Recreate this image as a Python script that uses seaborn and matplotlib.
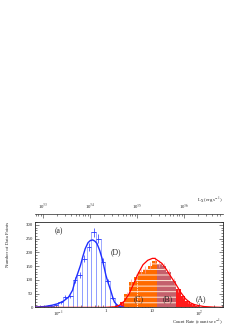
import numpy as np
import pandas as pd
import matplotlib
matplotlib.use("Agg")
import matplotlib.pyplot as plt
import matplotlib.ticker as mticker
import seaborn as sns

# log10(count rate) bin edges, 0.1 dex wide
edges = np.round(np.arange(-1.5, 2.51, 0.1), 1)
centers = np.round(edges[:-1] + 0.05, 2)

# source (D) histogram
blue_counts = [1, 2, 4, 6, 10, 18, 38, 40, 99, 117,
               177, 220, 272, 250, 165, 95, 35, 10, 3, 0,
               0, 0, 0, 0, 0, 0, 0, 0, 0, 0,
               0, 0, 0, 0, 0, 0, 0, 0, 0, 0]
# background histogram, split into regions (C), (B), (A)
red_counts = [0, 0, 0, 0, 0, 0, 0, 0, 0, 0,
              0, 0, 0, 0, 0, 1, 3, 8, 18, 48,
              92, 110, 128, 138, 152, 170, 158, 150, 128, 96,
              65, 40, 22, 12, 6, 3, 2, 1, 1, 0]

# fitted curves (log10 count rate, counts)
blue_fit_x = [-1.5, -1.3, -1.13, -1.0, -0.89, -0.78, -0.7, -0.64, -0.58, -0.53, -0.48,
              -0.43, -0.37, -0.32, -0.27, -0.22, -0.18, -0.12, -0.07, -0.02, 0.01,
              0.06, 0.11, 0.15, 0.19, 0.25, 0.32, 0.4]
blue_fit_y = [1, 3, 8, 14, 23, 38, 62, 99, 128, 153, 185,
              213, 235, 243, 245, 240, 232, 206, 177, 140, 117,
              88, 63, 40, 20, 8, 2, 0]
red_fit_x = [-1.5, 0.0, 0.1, 0.2, 0.3, 0.4, 0.5, 0.6, 0.7, 0.8, 0.9, 1.0, 1.05,
             1.1, 1.2, 1.3, 1.4, 1.5, 1.6, 1.7, 1.8, 1.9, 2.0, 2.1, 2.3, 2.5]
red_fit_y = [0, 0, 1, 2, 8, 22, 48, 85, 124, 155, 171, 178, 178,
             172, 160, 137, 110, 84, 55, 32, 17, 10, 6, 3, 1, 0]

# region limits in log10 count rate
c_lo, c_hi, b_hi = 0.4, 1.1, 1.5
dash_x, dash_top = 4.7, 110
lx_factor = 2.14e34
lx_ticks = [1e33, 1e34, 1e35, 1e36]
lx_labels = ["10$^{33}$", "10$^{34}$", "10$^{35}$", "10$^{36}$"]

df = pd.DataFrame({"logc": centers, "rate": 10 ** centers,
                   "blue": blue_counts, "red": red_counts})

sns.set_style("ticks")
plt.rcParams["font.family"] = ["Liberation Serif", "DejaVu Serif"]
plt.rcParams["mathtext.fontset"] = "stix"
plt.rcParams["hatch.linewidth"] = 0.7

fig = plt.figure(figsize=(2.53, 3.27), dpi=100)
ax = fig.add_axes([0.138, 0.060, 0.743, 0.261])

regions = [
    (-1.5, c_lo, "#ff1a1a", None),
    (c_lo, c_hi, "#ff6a00", "---"),
    (c_hi, b_hi, "#c4606c", "---"),
    (b_hi, 2.5, "#ff1a1a", None),
]
for lo, hi, col, hatch in regions:
    sub = df[(df.logc > lo) & (df.logc < hi)]
    nb = int(round((hi - lo) / 0.1))
    kw = dict(hatch=hatch) if hatch else {}
    sns.histplot(data=sub, x="rate", weights="red", bins=nb, binrange=(lo, hi),
                 log_scale=True, element="bars", fill=True, color=col, alpha=1,
                 linewidth=0, edgecolor="#ffe6d6", ax=ax, zorder=1, **kw)

ax.vlines(dash_x, 0, dash_top, colors="white", linestyles=(0, (2, 1.5)), lw=0.5, zorder=2)

# light error bars for the background points
rr = df[df.red > 0]
ax.errorbar(rr["rate"], rr["red"], yerr=np.sqrt(rr["red"]), fmt="none",
            ecolor="#ff9a9a", elinewidth=0.5, capsize=0, zorder=2)

# source (D): light bar outlines and data points with error bars
sns.histplot(data=df, x="rate", weights="blue", bins=len(centers), binrange=(-1.5, 2.5),
             log_scale=True, element="bars", fill=False, color="#8f9cff",
             linewidth=0.6, ax=ax, zorder=3)
bb = df[df.blue > 0]
xlo = bb["rate"] - 10 ** (bb["logc"] - 0.05)
xhi = 10 ** (bb["logc"] + 0.05) - bb["rate"]
ax.errorbar(bb["rate"], bb["blue"], xerr=[xlo, xhi], yerr=np.sqrt(bb["blue"]),
            fmt="none", ecolor="#2030ff", elinewidth=0.5, capsize=0, zorder=4)

sns.lineplot(x=10 ** np.array(blue_fit_x), y=blue_fit_y, color="#1f2eff", lw=1.0, ax=ax, zorder=5)
sns.lineplot(x=10 ** np.array(red_fit_x), y=red_fit_y, color="#ff0000", lw=0.9, ax=ax, zorder=6)

ax.set_xscale("log")
ax.set_xlim(10 ** -1.5, 10 ** 2.5)
ax.set_ylim(0, 310)
ax.set_xticks([0.1, 1, 10, 100], labels=["10$^{-1}$", "1", "10", "10$^{2}$"])
ax.xaxis.set_minor_locator(mticker.LogLocator(subs=np.arange(2, 10)))
ax.xaxis.set_minor_formatter(mticker.NullFormatter())
ax.yaxis.set_major_locator(mticker.MultipleLocator(50))
ax.yaxis.set_minor_locator(mticker.MultipleLocator(10))
ax.tick_params(which="both", direction="in", top=False, right=True, labelsize=3.5,
               width=0.4, pad=1.5)
ax.tick_params(which="major", length=3)
ax.tick_params(which="minor", length=1.5)
for s in ax.spines.values():
    s.set_linewidth(0.6)

ax.set_xlabel("Count Rate (count sec$^{-1}$)", fontsize=3.5, loc="right")
ax.xaxis.set_label_coords(1.0, -0.125)
ax.set_ylabel("Number of Data Points", fontsize=3.5, loc="top")
ax.yaxis.set_label_coords(-0.13, 1.0)

secax = ax.secondary_xaxis(1.094, functions=(lambda x: x * lx_factor, lambda x: x / lx_factor))
secax.set_xticks(lx_ticks, labels=lx_labels)
secax.xaxis.set_minor_locator(mticker.LogLocator(subs=np.arange(2, 10)))
secax.xaxis.set_minor_formatter(mticker.NullFormatter())
secax.tick_params(which="both", direction="in", labelsize=3.5, width=0.4, pad=1.5)
secax.tick_params(which="major", length=3)
secax.tick_params(which="minor", length=1.5)
secax.spines["top"].set_linewidth(0.5)
ax.text(1.0, 1.246, "L$_{\\rm X}$ (erg s$^{-1}$)", transform=ax.transAxes,
        ha="right", va="center", fontsize=3.5)

ax.text(0.129, 0.891, "(a)", transform=ax.transAxes, ha="center", va="center", fontsize=5.5)
ax.text(0.429, 0.645, "(D)", transform=ax.transAxes, ha="center", va="center", fontsize=5.5)
ax.text(0.553, 0.097, "(C)", transform=ax.transAxes, ha="center", va="center", fontsize=5.5)
ax.text(0.704, 0.097, "(B)", transform=ax.transAxes, ha="center", va="center", fontsize=5.5)
ax.text(0.883, 0.097, "(A)", transform=ax.transAxes, ha="center", va="center", fontsize=5.5)

fig.savefig("out.png", dpi=100)
